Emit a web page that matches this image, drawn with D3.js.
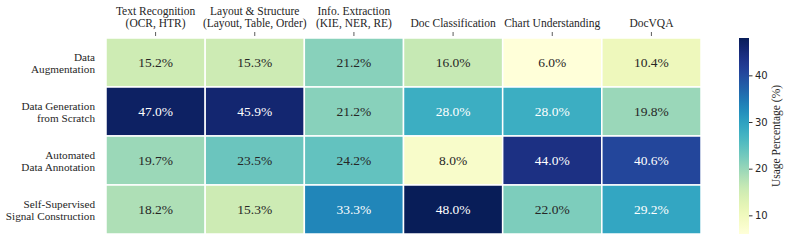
<!DOCTYPE html>
<html>
<head>
<meta charset="utf-8">
<script src="https://cdn.jsdelivr.net/npm/d3@7"></script>
<style>
  body { margin: 0; background: #fff; }
  svg { display: block; }
  .serif { font-family: "Liberation Serif", "Times New Roman", Times, "DejaVu Serif", serif; }
</style>
</head>
<body>
<div id="chart"></div>
<script>
// rows / cols / values of the heatmap
const rowLabels = [
  ["Data", "Augmentation"],
  ["Data Generation", "from Scratch"],
  ["Automated", "Data Annotation"],
  ["Self-Supervised", "Signal Construction"]
];
const colLabels = [
  ["Text Recognition", "(OCR, HTR)"],
  ["Layout & Structure", "(Layout, Table, Order)"],
  ["Info. Extraction", "(KIE, NER, RE)"],
  ["Doc Classification"],
  ["Chart Understanding"],
  ["DocVQA"]
];
const values = [
  [15.2, 15.3, 21.2, 16.0, 6.0, 10.4],
  [47.0, 45.9, 21.2, 28.0, 28.0, 19.8],
  [19.7, 23.5, 24.2, 8.0, 44.0, 40.6],
  [18.2, 15.3, 33.3, 48.0, 22.0, 29.2]
];
const cbarTicks = [10, 20, 30, 40];

const W = 793, H = 242;
const M = {LEFT: 106, RIGHT: 92, TOP: 38, BOTTOM: 8};

const svg = d3.select("#chart").append("svg")
  .attr("width", W)
  .attr("height", H);

const x = d3.scaleBand().domain(d3.range(colLabels.length)).range([M.LEFT, W - M.RIGHT]);
const y = d3.scaleBand().domain(d3.range(rowLabels.length)).range([M.TOP, H - M.BOTTOM]);

const flat = values.flat();
const vmin = d3.min(flat), vmax = d3.max(flat);
const color = d3.scaleSequential(d3.interpolateYlGnBu).domain([vmin, vmax]);

// seaborn-style text colour from relative luminance
function lum(c) {
  const rgb = d3.rgb(c);
  const lin = [rgb.r, rgb.g, rgb.b].map(v => {
    v /= 255;
    return v <= 0.03928 ? v / 12.92 : Math.pow((v + 0.055) / 1.055, 2.4);
  });
  return 0.2126 * lin[0] + 0.7152 * lin[1] + 0.0722 * lin[2];
}

const cells = [];
values.forEach((row, i) => row.forEach((v, j) => cells.push({i, j, v})));

const g = svg.append("g");
g.selectAll("rect.cell")
  .data(cells)
  .enter()
  .append("rect")
  .attr("class", "cell")
  .attr("x", d => x(d.j))
  .attr("y", d => y(d.i))
  .attr("width", x.bandwidth())
  .attr("height", y.bandwidth())
  .attr("fill", d => color(d.v))
  .attr("stroke", "#fff")
  .attr("stroke-width", 1.5);

g.selectAll("text.val")
  .data(cells)
  .enter()
  .append("text")
  .attr("class", "val serif")
  .attr("x", d => x(d.j) + x.bandwidth() / 2)
  .attr("y", d => y(d.i) + y.bandwidth() / 2 + 4.5)
  .attr("text-anchor", "middle")
  .attr("font-size", 13.5)
  .attr("fill", d => lum(color(d.v)) > 0.408 ? "#262626" : "#ffffff")
  .text(d => d.v.toFixed(1) + "%");

// column labels on top
const colG = svg.append("g");
colLabels.forEach((lines, j) => {
  const cx = x(j) + x.bandwidth() / 2;
  colG.append("line")
    .attr("x1", cx).attr("x2", cx)
    .attr("y1", M.TOP - 6).attr("y2", M.TOP - 2)
    .attr("stroke", "#333").attr("stroke-width", 0.8);
  const t = colG.append("text")
    .attr("class", "serif")
    .attr("text-anchor", "middle")
    .attr("font-size", 11.5)
    .attr("fill", "#262626");
  lines.forEach((s, k) => {
    t.append("tspan")
      .attr("x", cx)
      .attr("y", 27 - (lines.length - 1 - k) * 12)
      .text(s);
  });
});

// row labels on the left
const rowG = svg.append("g");
rowLabels.forEach((lines, i) => {
  const cy = y(i) + y.bandwidth() / 2;
  const t = rowG.append("text")
    .attr("class", "serif")
    .attr("text-anchor", "end")
    .attr("font-size", 11.2)
    .attr("fill", "#262626");
  lines.forEach((s, k) => {
    t.append("tspan")
      .attr("x", 95)
      .attr("y", cy + (k - (lines.length - 1) / 2) * 12 + 4)
      .text(s);
  });
});

// colorbar
const cbX = 739, cbW = 10;
const cbY = d3.scaleLinear().domain([vmin, vmax]).range([H - M.BOTTOM, M.TOP]);
const defs = svg.append("defs");
const grad = defs.append("linearGradient")
  .attr("id", "cbar")
  .attr("x1", 0).attr("y1", 1).attr("x2", 0).attr("y2", 0);
d3.range(0, 1.0001, 0.02).forEach(t => {
  grad.append("stop")
    .attr("offset", t)
    .attr("stop-color", d3.interpolateYlGnBu(t));
});
svg.append("rect")
  .attr("x", cbX)
  .attr("y", M.TOP)
  .attr("width", cbW)
  .attr("height", H - M.BOTTOM - M.TOP)
  .attr("fill", "url(#cbar)");

const cbAxis = svg.append("g")
  .attr("transform", `translate(${cbX + cbW},0)`)
  .call(d3.axisRight(cbY).tickValues(cbarTicks).tickSize(3.5).tickPadding(2.5));
cbAxis.select(".domain").remove();
cbAxis.selectAll("line").attr("stroke", "#333").attr("stroke-width", 1);
cbAxis.selectAll("text")
  .attr("font-family", "'DejaVu Sans', sans-serif")
  .attr("font-size", 10)
  .attr("fill", "#262626");

svg.append("text")
  .attr("class", "serif")
  .attr("transform", `translate(780,${(M.TOP + H - M.BOTTOM) / 2}) rotate(-90)`)
  .attr("text-anchor", "middle")
  .attr("font-size", 11.5)
  .attr("fill", "#262626")
  .text("Usage Percentage (%)");
</script>
</body>
</html>
